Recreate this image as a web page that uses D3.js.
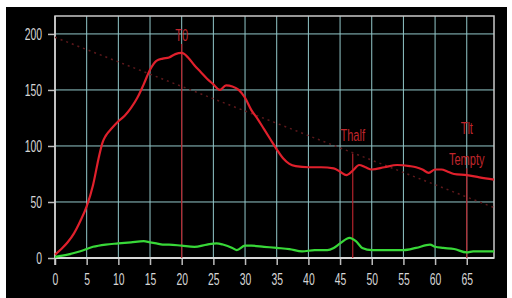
<!DOCTYPE html>
<html lang="en">
<head>
<meta charset="UTF-8">
<title>Gastric emptying curve</title>
<style>
  html, body { margin: 0; padding: 0; background: #fff; }
  svg { display: block; }
  .tick text { font-family: "Liberation Sans", Arial, sans-serif; }
</style>
</head>
<body>
<svg id="chart" width="512" height="298"></svg>
<script src="https://cdnjs.cloudflare.com/ajax/libs/d3/7.8.5/d3.min.js"></script>
<script>
// values
const xTicks = [0, 5, 10, 15, 20, 25, 30, 35, 40, 45, 50, 55, 60, 65];
const yTicks = [0, 50, 100, 150, 200];

const redCurve = [
  [0, 3], [1, 8], [2, 14], [3, 22], [4, 33], [5, 46], [6, 65], [7, 92], [7.5, 103],
  [8, 109], [9, 116], [10, 122], [11, 127], [12, 134], [13, 143], [14, 155], [15, 168],
  [16, 176], [17, 178], [18, 179], [19, 182], [20, 183], [21, 179], [22, 172], [23, 166],
  [24, 160], [25, 155], [26, 150], [27, 154], [28, 153], [29, 150], [30, 143], [31, 132],
  [32, 124], [33, 115], [34, 106], [35, 97], [36, 89], [37, 84], [38, 82], [40, 81],
  [42, 81], [44, 80], [45, 77], [46, 74], [47, 78], [48, 83], [49, 81], [50, 79],
  [52, 81], [54, 83], [56, 82], [57, 81], [58, 79], [59, 76], [60, 79], [61, 79],
  [62, 77], [63, 75], [65, 74], [67, 72], [69.3, 70]
];

const greenCurve = [
  [0, 1], [2, 3], [4, 6], [6, 10], [8, 12], [10, 13], [12, 14], [14, 15], [15, 14],
  [16, 13], [17, 12], [18, 12], [20, 11], [22, 10], [24, 12], [25.5, 13], [26.5, 12],
  [28, 9], [28.7, 7], [30, 11], [31, 11], [33, 10], [35, 9], [37, 8], [39, 6], [41, 7],
  [43, 7], [44, 9], [45, 13], [46.5, 18], [47.5, 15], [48.5, 9], [50, 7], [52, 7],
  [55, 7], [57, 9], [59.2, 12], [60, 10], [61.3, 9], [63, 8], [65, 5], [66, 6], [69.3, 6]
];

const trendLine = [[0, 197], [69.3, 45]];

const markerNames = ["T0", "Thalf", "Tlt"];
const markerX = [20, 47, 65];
const markerSub = ["", "", "Tempty"];
const markerTop = [191, 93, 80];   // value just below each label

const W = 512, H = 298;
const margin = { top: 16, right: 18, bottom: 40, left: 55 };
const svg = d3.select("#chart");
const sx = 0.65; // narrow lettering

svg.append("rect").attr("x", 6).attr("y", 7).attr("width", 501).attr("height", 291)
  .attr("fill", "#000");

const x = d3.scaleLinear().domain([0, 69.3]).range([margin.left, W - margin.right]);
const y = d3.scaleLinear().domain([0, 216]).range([H - margin.bottom, margin.top]);

// grid
const grid = svg.append("g");
grid.selectAll(".gx").data(xTicks.filter(d => d > 0)).enter().append("line")
  .attr("x1", d => x(d)).attr("x2", d => x(d))
  .attr("y1", y(216)).attr("y2", y(0))
  .attr("stroke", "#93c8ca").attr("stroke-width", 1);
grid.selectAll(".gy").data(yTicks.filter(d => d > 0)).enter().append("line")
  .attr("x1", x(0)).attr("x2", x(69.3))
  .attr("y1", d => y(d)).attr("y2", d => y(d))
  .attr("stroke", "#93c8ca").attr("stroke-width", 1);

// frame
svg.append("rect")
  .attr("x", x(0)).attr("y", y(216))
  .attr("width", x(69.3) - x(0)).attr("height", y(0) - y(216))
  .attr("fill", "none").attr("stroke", "#c9c9c9").attr("stroke-width", 1.5);

// axes
const yAxis = svg.append("g").attr("transform", `translate(${x(0)},0)`)
  .call(d3.axisLeft(y).tickValues(yTicks).tickSize(7).tickPadding(6));
const xAxis = svg.append("g").attr("transform", `translate(0,${y(0)})`)
  .call(d3.axisBottom(x).tickValues(xTicks).tickSize(7).tickPadding(6));

[yAxis, xAxis].forEach(a => {
  a.select(".domain").remove();
  a.selectAll(".tick line").attr("stroke", "#bdbdbd").attr("stroke-width", 1.5);
  a.selectAll(".tick text").attr("fill", "#d6d6d6").attr("font-size", 16);
});
yAxis.selectAll(".tick text")
  .attr("x", -13 / sx).attr("dy", "0.36em").attr("transform", `scale(${sx},1)`);
xAxis.selectAll(".tick text")
  .attr("y", 16).attr("transform", `scale(${sx},1)`);

svg.append("line").attr("x1", x(0)).attr("x2", x(69.3)).attr("y1", y(0)).attr("y2", y(0))
  .attr("stroke", "#d8d8d8").attr("stroke-width", 2);
svg.append("line").attr("x1", x(0)).attr("x2", x(0)).attr("y1", y(216)).attr("y2", y(0) + 7)
  .attr("stroke", "#d0d0d0").attr("stroke-width", 1.5);

// dotted trend
svg.append("line")
  .attr("x1", x(trendLine[0][0])).attr("y1", y(trendLine[0][1]))
  .attr("x2", x(trendLine[1][0])).attr("y2", y(trendLine[1][1]))
  .attr("stroke", "#5e181b").attr("stroke-width", 1.5).attr("stroke-dasharray", "2,4");

// markers
markerX.forEach((mx, i) => {
  svg.append("line")
    .attr("x1", x(mx)).attr("x2", x(mx))
    .attr("y1", y(markerTop[i])).attr("y2", y(0))
    .attr("stroke", "#b3232b").attr("stroke-width", 1.2);
});

const line = d3.line().x(d => x(d[0])).y(d => y(d[1])).curve(d3.curveMonotoneX);

svg.append("path").datum(greenCurve).attr("d", line)
  .attr("fill", "none").attr("stroke", "#38d838").attr("stroke-width", 2.2);
svg.append("path").datum(redCurve).attr("d", line)
  .attr("fill", "none").attr("stroke", "#e0202c").attr("stroke-width", 2.2);

// marker labels
const labelY = [41, 141, 134];
markerNames.forEach((name, i) => {
  const g = svg.append("g").attr("transform", `translate(${x(markerX[i])},${labelY[i]})`);
  g.append("text").attr("text-anchor", "middle").attr("transform", `scale(${sx},1)`)
    .attr("font-family", "Liberation Sans, Arial, sans-serif").attr("font-size", 17)
    .attr("fill", "#c0262c").text(name);
  if (markerSub[i]) {
    g.append("text").attr("text-anchor", "middle").attr("y", 31)
      .attr("transform", `scale(${sx},1)`)
      .attr("font-family", "Liberation Sans, Arial, sans-serif").attr("font-size", 17)
      .attr("fill", "#c0262c").text(markerSub[i]);
  }
});
</script>
</body>
</html>
